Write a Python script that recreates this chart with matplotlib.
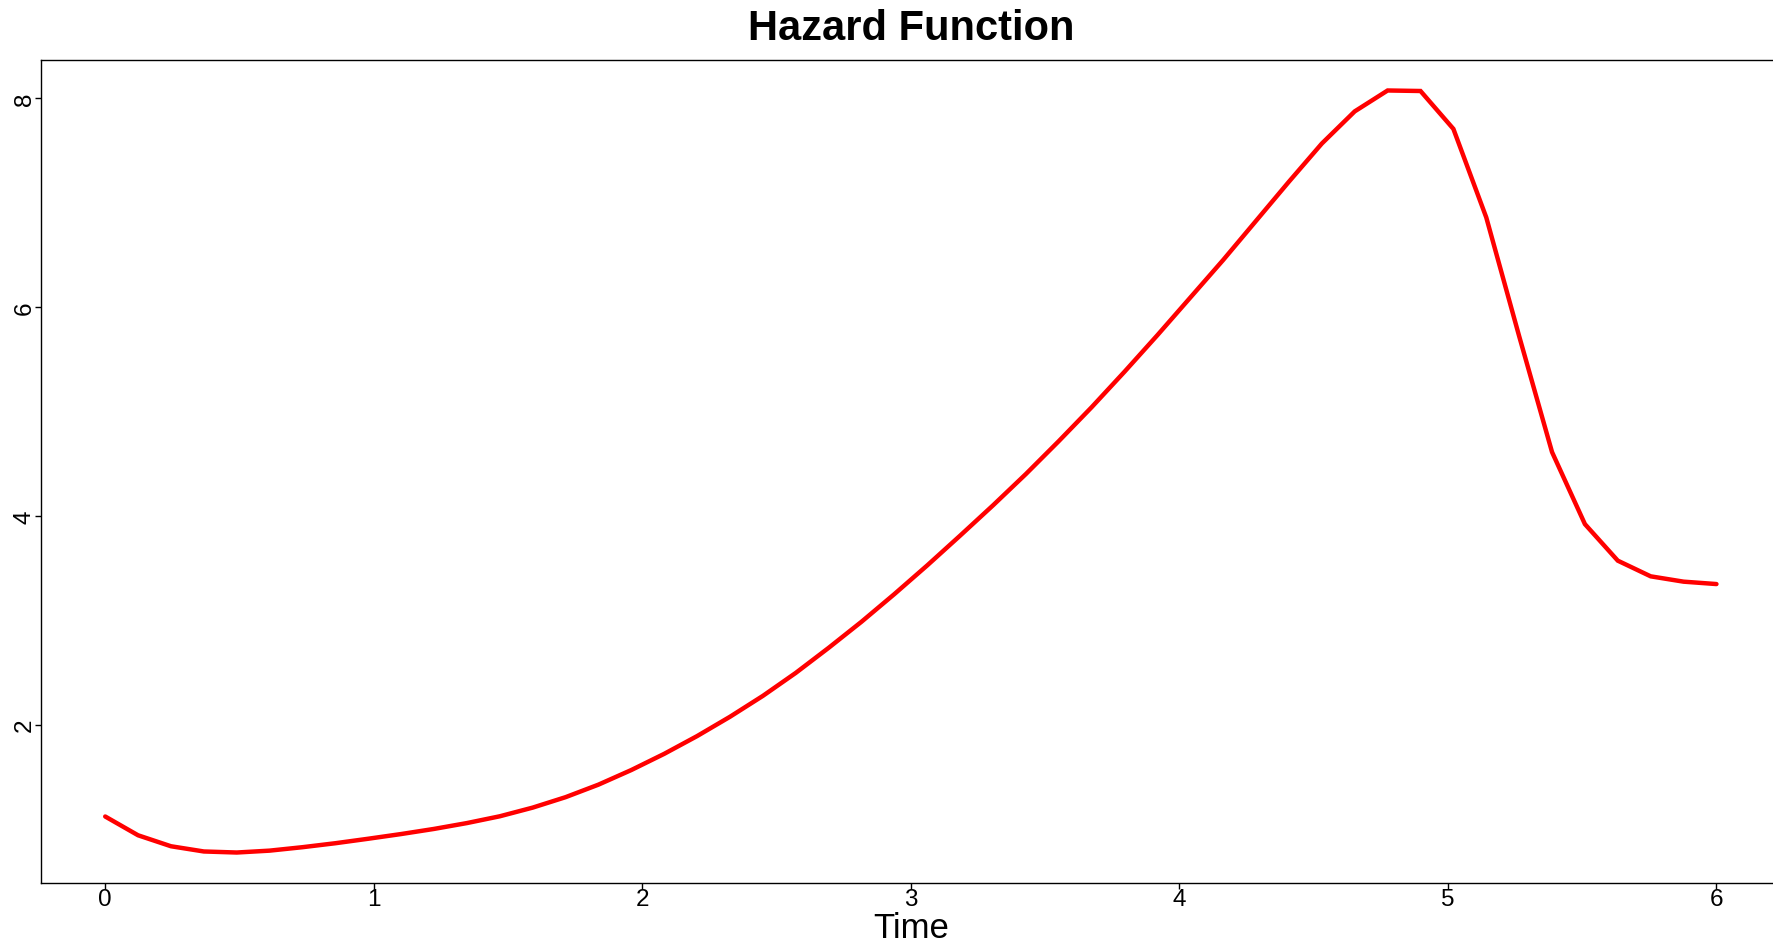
import numpy as np
import matplotlib
matplotlib.use("Agg")
import matplotlib.pyplot as plt

# Estimated hazard curve evaluated on a regular time grid (50 points over 0..6)
time = np.linspace(0, 6, 50)
hazard = [
    1.12, 0.94, 0.835, 0.785, 0.775, 0.793, 0.826, 0.864, 0.907, 0.952,
    1.001, 1.057, 1.122, 1.205, 1.305, 1.425, 1.565, 1.72, 1.89, 2.075,
    2.275, 2.495, 2.735, 2.985, 3.25, 3.525, 3.81, 4.10, 4.40, 4.715,
    5.04, 5.38, 5.73, 6.09, 6.45, 6.825, 7.20, 7.565, 7.873, 8.073,
    8.068, 7.705, 6.857, 5.72, 4.61, 3.92, 3.57, 3.42, 3.369, 3.346,
]
x_ticks = [0, 1, 2, 3, 4, 5, 6]
y_ticks = [2, 4, 6, 8]
title = "Hazard Function"
x_label = "Time"

plt.rcParams["font.family"] = ["Liberation Sans", "DejaVu Sans"]

W, H, DPI = 1773, 945, 100
fig = plt.figure(figsize=(W / DPI, H / DPI), dpi=DPI)

# R-style 4% padding around the data range
def padded(lo, hi, frac=0.04):
    d = (hi - lo) * frac
    return lo - d, hi + d

xlim = padded(min(time), max(time))
ylim = padded(min(hazard), max(hazard))

# plot region in pixels (the right edge runs past the canvas)
left_px, right_px = 40.75, 1780.9
top_px, bottom_px = 61.0, 884.0
ax = fig.add_axes([left_px / W, (H - bottom_px) / H,
                   (right_px - left_px) / W, (bottom_px - top_px) / H])

ax.plot(time, hazard, color="#ff0000", lw=3.2, solid_joinstyle="miter",
        solid_capstyle="round", clip_on=False)
ax.set_xlim(*xlim)
ax.set_ylim(*ylim)

ax.set_xticks(x_ticks)
ax.set_xticklabels([str(v) for v in x_ticks])
ax.set_yticks(y_ticks)
ax.set_yticklabels([str(v) for v in y_ticks])

for s in ax.spines.values():
    s.set_linewidth(1.0)
    s.set_color("black")

ax.tick_params(axis="both", direction="out", length=4.5, width=1.0,
               labelsize=17.5, colors="black")
ax.tick_params(axis="x", pad=-1)
ax.tick_params(axis="y", labelrotation=90, pad=-1)
for lbl in ax.get_yticklabels():
    lbl.set_va("center")

cx = (left_px + right_px) / 2 / W
fig.text(cx, 1 - 40.5 / H, title, ha="center", va="baseline",
         fontsize=30, fontweight="bold")
fig.text(cx, 1 - 938.5 / H, x_label, ha="center", va="baseline",
         fontsize=25)

fig.savefig("out.png", dpi=DPI, facecolor="white")
